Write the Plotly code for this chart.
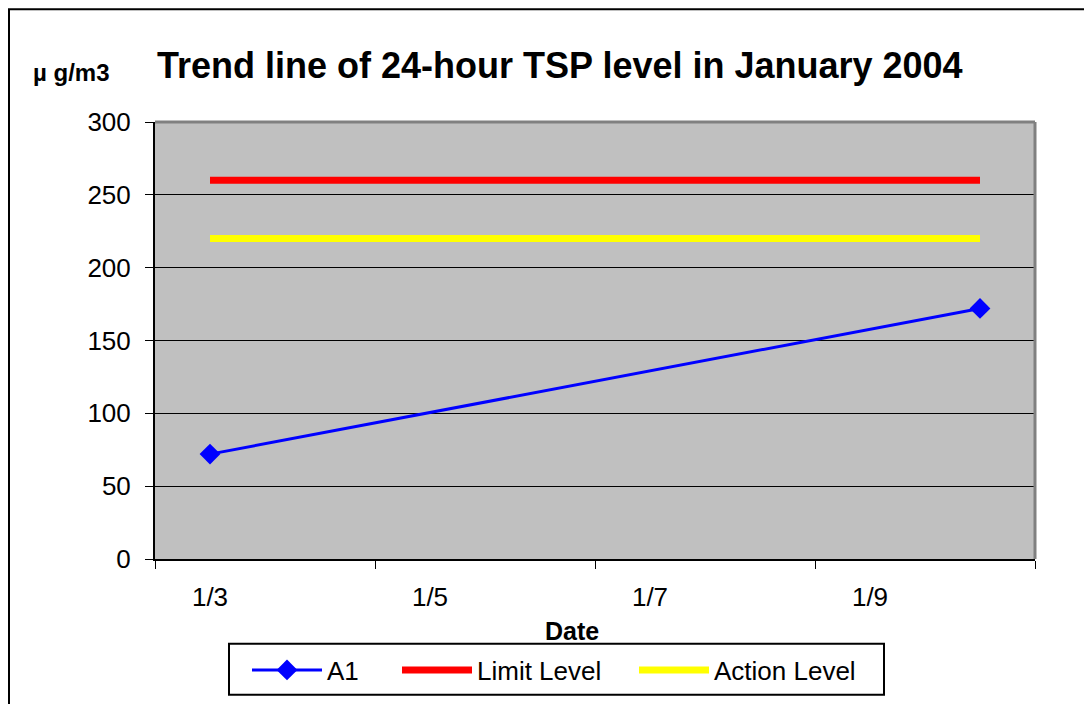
import plotly.graph_objects as go

# ---- data ----
dates = ["2004-01-03", "2004-01-10"]
a1_values = [72, 172]
limit_values = [260, 260]
action_values = [220, 220]
tick_boundaries = ["2004-01-02 12:00", "2004-01-04 12:00", "2004-01-06 12:00",
                   "2004-01-08 12:00", "2004-01-10 12:00"]
label_dates = ["2004-01-03", "2004-01-05", "2004-01-07", "2004-01-09"]
label_text = ["1/3", "1/5", "1/7", "1/9"]
y_ticks = [0, 50, 100, 150, 200, 250, 300]

FONT = "Liberation Sans, Arial, sans-serif"

fig = go.Figure()
fig.add_trace(go.Scatter(x=dates, y=a1_values, name="A1", mode="lines+markers",
                         legend="legend",
                         line=dict(color="#0000FF", width=3),
                         marker=dict(symbol="diamond", size=16, color="#0000FF")))
fig.add_trace(go.Scatter(x=dates, y=limit_values, name="Limit Level", mode="lines",
                         legend="legend2",
                         line=dict(color="#FF0000", width=7)))
fig.add_trace(go.Scatter(x=dates, y=action_values, name="Action Level", mode="lines",
                         legend="legend3",
                         line=dict(color="#FFFF00", width=7)))
# invisible trace on the label axis
fig.add_trace(go.Scatter(x=dates, y=a1_values, xaxis="x2", mode="lines",
                         line=dict(width=0), showlegend=False, hoverinfo="skip"))

def px_x(v):
    return (v - 155) / 880

def px_y(v):
    return (560 - v) / 438

leg_common = dict(orientation="h", xanchor="left", yanchor="middle", y=px_y(670),
                  bgcolor="rgba(0,0,0,0)", borderwidth=0,
                  font=dict(size=26, family=FONT), itemwidth=70)

rng = [tick_boundaries[0], tick_boundaries[-1]]
fig.update_layout(
    width=1084, height=696,
    margin=dict(l=147, r=57, t=114, b=144),
    paper_bgcolor="white", plot_bgcolor="#C0C0C0",
    font=dict(family=FONT, color="black"),
    showlegend=True,
    xaxis=dict(type="date", range=rng, tickmode="array", tickvals=tick_boundaries,
               showticklabels=False, ticks="outside", ticklen=8, tickcolor="black",
               showgrid=False, showline=True, linecolor="black", linewidth=2,
               zeroline=False, fixedrange=True),
    xaxis2=dict(type="date", range=rng, overlaying="x", side="bottom", matches="x",
                tickmode="array", tickvals=label_dates, ticktext=label_text,
                ticks="", showgrid=False, showline=False, zeroline=False,
                tickfont=dict(size=26, family=FONT), ticklabelstandoff=20),
    yaxis=dict(range=[0, 300], tickmode="array", tickvals=y_ticks,
               ticks="outside", ticklen=8, tickcolor="black",
               showgrid=True, gridcolor="black", gridwidth=1,
               showline=True, linecolor="black", linewidth=2, zeroline=False,
               tickfont=dict(size=26, family=FONT), ticklabelstandoff=9),
    legend=dict(leg_common, x=px_x(247)),
    legend2=dict(leg_common, x=px_x(397)),
    legend3=dict(leg_common, x=px_x(634)),
    shapes=[
        # plot area gray frame (top and right)
        dict(type="line", xref="paper", yref="paper", x0=0, x1=1, y0=1, y1=1,
             line=dict(color="#808080", width=3)),
        dict(type="line", xref="paper", yref="paper", x0=1, x1=1, y0=0, y1=1,
             line=dict(color="#808080", width=3)),
        # legend box
        dict(type="rect", xref="paper", yref="paper",
             x0=px_x(229), x1=px_x(884), y0=px_y(696), y1=px_y(645),
             line=dict(color="black", width=2), layer="below"),
        # outer chart border
        dict(type="rect", xref="paper", yref="paper",
             x0=px_x(9), x1=px_x(1089), y0=px_y(710), y1=px_y(9),
             line=dict(color="black", width=2), layer="above"),
    ],
    annotations=[
        dict(text="<b>Trend line of 24-hour TSP level in January 2004</b>",
             xref="paper", yref="paper", x=px_x(560), y=px_y(65),
             xanchor="center", yanchor="middle", showarrow=False,
             font=dict(size=36, family=FONT)),
        dict(text="<b>µ g/m3</b>", xref="paper", yref="paper",
             x=px_x(71), y=px_y(72),
             xanchor="center", yanchor="middle", showarrow=False,
             font=dict(size=24, family=FONT)),
        dict(text="<b>Date</b>", xref="paper", yref="paper",
             x=px_x(572), y=px_y(632),
             xanchor="center", yanchor="middle", showarrow=False,
             font=dict(size=25, family=FONT)),
    ],
)

fig.write_html("out.html")
